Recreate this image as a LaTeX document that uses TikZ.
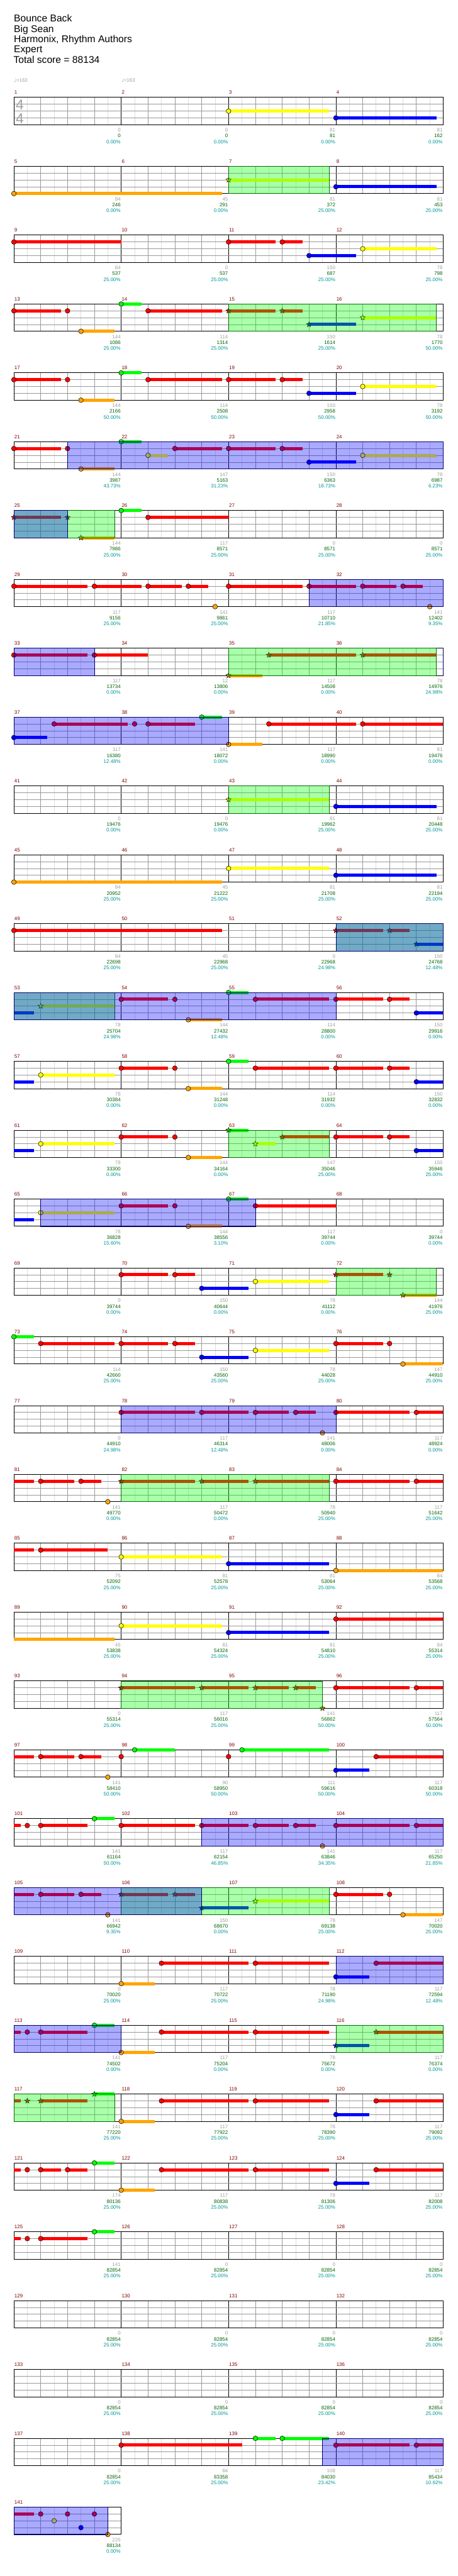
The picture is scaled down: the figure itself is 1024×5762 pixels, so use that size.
\documentclass[tikz,border=0pt]{standalone}
\usepackage{fontspec}
\setmainfont{Liberation Sans}
\newfontfamily\notefont{DejaVu Sans}
\definecolor{cG}{RGB}{0,255,0}
\definecolor{cR}{RGB}{255,0,0}
\definecolor{cY}{RGB}{255,255,0}
\definecolor{cB}{RGB}{0,0,255}
\definecolor{cO}{RGB}{255,165,0}
\definecolor{barred}{RGB}{128,0,0}
\definecolor{gaingray}{RGB}{160,160,160}
\definecolor{scoregreen}{RGB}{0,100,0}
\definecolor{ratioteal}{RGB}{0,150,150}
\definecolor{gridlight}{RGB}{221,221,221}
\definecolor{gridmid}{RGB}{153,153,153}
\definecolor{phraseedge}{RGB}{0,110,0}
\definecolor{activeedge}{RGB}{0,0,110}
\tikzset{
    titletext/.style={font=\fontsize{16.5}{19}\selectfont, anchor=base west, inner sep=0pt},
    smalltext/.style={font=\fontsize{8.4}{10}\selectfont, inner sep=0pt},
    barnum/.style={smalltext, text=barred, anchor=base west},
    gainnum/.style={smalltext, text=gaingray, anchor=base east},
    scorenum/.style={smalltext, text=scoregreen, anchor=base east},
    rationum/.style={smalltext, text=ratioteal, anchor=base east},
    tempomark/.style={smalltext, text=gaingray, anchor=base west},
    timesig/.style={font=\fontsize{24}{28}\selectfont, text=gaingray, anchor=base west, inner sep=0pt},
    lightline/.style={draw=gridlight, line width=0.75pt},
    beatline/.style={draw=gridmid, line width=0.75pt},
    barline/.style={draw=black, line width=0.75pt},
    staffbox/.style={draw=black, line width=1pt},
    headline/.style={draw=black, line width=0.55pt},
    phrasezone/.style={fill=cG, fill opacity=0.333, draw=phraseedge, line width=0.75pt},
    activezone/.style={fill=cB, fill opacity=0.333, draw=activeedge, line width=0.75pt}
}
% lane heights inside a staff
\def\yG{0}\def\yR{15.25}\def\yY{30.5}\def\yB{45.75}\def\yO{61}
% staff grid for #1 measures
\newcommand{\staff}[1]{%
  \pgfmathtruncatemacro\lastline{8*#1-1}%
  \foreach \e in {1,...,\lastline} {%
    \pgfmathtruncatemacro\inbar{mod(\e,8)}%
    \pgfmathtruncatemacro\isodd{mod(\e,2)}%
    \ifnum\inbar=0 \draw[barline] ({30*\e},0) -- ({30*\e},61);%
    \else\ifnum\isodd=1 \draw[lightline] ({30*\e},0) -- ({30*\e},61);%
    \else \draw[beatline] ({30*\e},0) -- ({30*\e},61);\fi\fi}%
  \foreach \l in {15.25,30.5,45.75} \draw[beatline] (0,\l) -- ({240*#1},\l);%
  \draw[staffbox] (0,0) rectangle ({240*#1},61);}
% gem: lane, start, end of sustain (empty = none)
\newcommand{\gem}[3]{%
  \edef\ly{\csname y#1\endcsname}%
  \if\relax\detokenize{#3}\relax\else
    \fill[c#1] ({30*#2},{\ly-3.5}) rectangle ({30*#3},{\ly+3.5});\fi
  \filldraw[fill=c#1, headline] ({30*#2},\ly) circle[radius=4pt];}
\newcommand{\stargem}[3]{%
  \edef\ly{\csname y#1\endcsname}%
  \if\relax\detokenize{#3}\relax\else
    \fill[c#1] ({30*#2},{\ly-3.5}) rectangle ({30*#3},{\ly+3.5});\fi
  \coordinate (gem) at ({30*#2},\ly);
  \filldraw[fill=c#1, headline] ([shift={(90:4.6pt)}]gem)
    -- ([shift={(126:2pt)}]gem) -- ([shift={(162:4.6pt)}]gem)
    -- ([shift={(198:2pt)}]gem) -- ([shift={(234:4.6pt)}]gem)
    -- ([shift={(270:2pt)}]gem) -- ([shift={(306:4.6pt)}]gem)
    -- ([shift={(342:2pt)}]gem) -- ([shift={(18:4.6pt)}]gem)
    -- ([shift={(54:2pt)}]gem) -- cycle;}
% sustain carried over from the row above
\newcommand{\tailbar}[2]{%
  \edef\ly{\csname y#1\endcsname}%
  \fill[c#1] (0,{\ly-3.5}) rectangle ({30*#2},{\ly+3.5});}
\newcommand{\odphrase}[2]{\filldraw[phrasezone] ({30*#1},0) rectangle ({30*#2},61);}
\newcommand{\odactive}[2]{\filldraw[activezone] ({30*#1},0) rectangle ({30*#2},61);}
% measure numbers and points under each measure
\newcommand{\rowlabels}[3]{%
  \foreach \col in {1,...,#2} {%
    \pgfmathtruncatemacro\mnum{#1+\col-1}%
    \node[barnum] (bar-\mnum) at ({240*(\col-1)+1},-7) {\mnum};}%
  \foreach \gpts/\tpts/\prat [count=\col] in {#3} {%
    \pgfmathtruncatemacro\mnum{#1+\col-1}%
    \node[gainnum] (gain-\mnum) at ({240*\col-1},77) {\gpts};
    \node[scorenum] (score-\mnum) at ({240*\col-1},90) {\tpts};
    \node[rationum] (ratio-\mnum) at ({240*\col-1},103) {\prat\%};}}
% row, first measure, measures, points, gems
\newcommand{\chartrow}[5]{%
  \begin{scope}[shift={(31,{218+154*#1})}]
    \staff{#3}
    #5
    \rowlabels{#2}{#3}{#4}
  \end{scope}}

\begin{document}
\begin{tikzpicture}[x=0.75pt, y=-0.75pt]
    \useasboundingbox (0,0) rectangle (1024,5762);
    \fill[white] (0,0) rectangle (1024,5762);

    % 1. Header
    \node[titletext] (song) at (31,49) {Bounce Back};
    \node[titletext] (artist) at (31,72) {Big Sean};
    \node[titletext] (charter) at (31,95) {Harmonix, Rhythm Authors};
    \node[titletext] (level) at (31,118) {Expert};
    \node[titletext] (total) at (30,141) {Total score = 88134};
    \node[tempomark] (tempo-1) at (31,184) {{\notefont ♩}=163};
    \node[tempomark] (tempo-2) at (271,184) {{\notefont ♩}=163};

    % 2. Rows of four measures
    \chartrow{0}{1}{4}{0/0/0.00, 0/0/0.00, 81/81/0.00, 81/162/0.00}{%
      \gem{Y}{16}{23.5} \gem{B}{24}{31.5}}
    \node[timesig] (sig-top) at (35,245) {4};
    \node[timesig] (sig-bot) at (35,276) {4};

    \chartrow{1}{5}{4}{84/246/0.00, 45/291/0.00, 81/372/25.00, 81/453/25.00}{%
      \gem{O}{0}{15.5} \stargem{Y}{16}{23.5} \gem{B}{24}{31.5}
      \odphrase{16}{23.5}}

    \chartrow{2}{9}{4}{84/537/25.00, 0/537/25.00, 150/687/25.00, 78/798/25.00}{%
      \gem{R}{0}{8} \gem{R}{16}{19.5} \gem{R}{20}{21.5} \gem{B}{22}{25.5} \gem{Y}{26}{31.5}}

    \chartrow{3}{13}{4}{144/1086/25.00, 114/1314/25.00, 150/1614/25.00, 78/1770/50.00}{%
      \gem{R}{0}{3.5} \gem{R}{4}{} \gem{O}{5}{7.5} \gem{G}{8}{9.5} \gem{R}{10}{15.5}
      \stargem{R}{16}{19.5} \stargem{R}{20}{21.5} \stargem{B}{22}{25.5} \stargem{Y}{26}{31.5}
      \odphrase{16}{31.5}}

    \chartrow{4}{17}{4}{144/2166/50.00, 114/2508/50.00, 150/2958/50.00, 78/3192/50.00}{%
      \gem{R}{0}{3.5} \gem{R}{4}{} \gem{O}{5}{7.5} \gem{G}{8}{9.5} \gem{R}{10}{15.5}
      \gem{R}{16}{19.5} \gem{R}{20}{21.5} \gem{B}{22}{25.5} \gem{Y}{26}{31.5}}

    \chartrow{5}{21}{4}{144/3987/43.73, 147/5163/31.23, 150/6363/18.73, 78/6987/6.23}{%
      \gem{R}{0}{3.5} \gem{R}{4}{} \gem{O}{5}{7.5} \gem{G}{8}{9.5} \gem{Y}{10}{11.5} \gem{R}{12}{15.5}
      \gem{R}{16}{19.5} \gem{R}{20}{21.5} \gem{B}{22}{25.5} \gem{Y}{26}{31.5}
      \odactive{4}{32}}

    \chartrow{6}{25}{4}{144/7986/25.00, 117/8571/25.00, 0/8571/25.00, 0/8571/25.00}{%
      \stargem{R}{0}{3.5} \stargem{R}{4}{} \stargem{O}{5}{7.5} \gem{G}{8}{9.5} \gem{R}{10}{16}
      \odphrase{0}{7.5} \odactive{0}{4}}

    \chartrow{7}{29}{4}{117/9156/25.00, 141/9861/25.00, 117/10710/21.85, 141/12402/9.35}{%
      \gem{R}{0}{5.5} \gem{R}{6}{9.5} \gem{R}{10}{12.5} \gem{R}{13}{14.5} \gem{O}{15}{}
      \gem{R}{16}{21.5} \gem{R}{22}{25.5} \gem{R}{26}{28.5} \gem{R}{29}{30.5} \gem{O}{31}{}
      \odactive{22}{32}}

    \chartrow{8}{33}{4}{117/13734/0.00, 12/13806/0.00, 117/14508/0.00, 78/14976/24.98}{%
      \gem{R}{0}{5.5} \gem{R}{6}{10}
      \stargem{O}{16}{18.5} \stargem{R}{19}{25.5} \stargem{R}{26}{31.5}
      \odactive{0}{6} \odphrase{16}{31.5} \odactive{32}{32}}

    \chartrow{9}{37}{4}{117/16380/12.48, 141/18072/0.00, 117/18990/0.00, 81/19476/0.00}{%
      \gem{B}{0}{2.5} \gem{R}{3}{8.5} \gem{R}{9}{} \gem{R}{10}{13.5} \gem{G}{14}{15.5}
      \gem{O}{16}{18.5} \gem{R}{19}{25.5} \gem{R}{26}{32}
      \odactive{0}{16}}

    \chartrow{10}{41}{4}{0/19476/0.00, 0/19476/0.00, 81/19962/25.00, 81/20448/25.00}{%
      \stargem{Y}{16}{23.5} \gem{B}{24}{31.5}
      \odphrase{16}{23.5}}

    \chartrow{11}{45}{4}{84/20952/25.00, 45/21222/25.00, 81/21708/25.00, 81/22194/25.00}{%
      \gem{O}{0}{15.5} \gem{Y}{16}{23.5} \gem{B}{24}{31.5}}

    \chartrow{12}{49}{4}{84/22698/25.00, 45/22968/25.00, 0/22968/24.98, 150/24768/12.48}{%
      \gem{R}{0}{15.5} \stargem{R}{24}{27.5} \stargem{R}{28}{29.5} \stargem{B}{30}{32}
      \odphrase{24}{32} \odactive{24}{32}}

    \chartrow{13}{53}{4}{78/25704/24.98, 144/27432/12.48, 114/28800/0.00, 150/29916/0.00}{%
      \tailbar{B}{1.5} \stargem{Y}{2}{7.5} \gem{R}{8}{11.5} \gem{R}{12}{} \gem{O}{13}{15.5}
      \gem{G}{16}{17.5} \gem{R}{18}{23.5} \gem{R}{24}{27.5} \gem{R}{28}{29.5} \gem{B}{30}{32}
      \odphrase{0}{7.5} \odactive{0}{24}}

    \chartrow{14}{57}{4}{78/30384/0.00, 144/31248/0.00, 114/31932/0.00, 150/32832/0.00}{%
      \tailbar{B}{1.5} \gem{Y}{2}{7.5} \gem{R}{8}{11.5} \gem{R}{12}{} \gem{O}{13}{15.5}
      \gem{G}{16}{17.5} \gem{R}{18}{23.5} \gem{R}{24}{27.5} \gem{R}{28}{29.5} \gem{B}{30}{32}}

    \chartrow{15}{61}{4}{78/33300/0.00, 144/34164/0.00, 147/35046/25.00, 150/35946/25.00}{%
      \tailbar{B}{1.5} \gem{Y}{2}{7.5} \gem{R}{8}{11.5} \gem{R}{12}{} \gem{O}{13}{15.5}
      \stargem{G}{16}{17.5} \stargem{Y}{18}{19.5} \stargem{R}{20}{23.5}
      \gem{R}{24}{27.5} \gem{R}{28}{29.5} \gem{B}{30}{32}
      \odphrase{16}{23.5}}

    \chartrow{16}{65}{4}{78/36828/15.60, 144/38556/3.10, 117/39744/0.00, 0/39744/0.00}{%
      \tailbar{B}{1.5} \gem{Y}{2}{7.5} \gem{R}{8}{11.5} \gem{R}{12}{} \gem{O}{13}{15.5}
      \gem{G}{16}{17.5} \gem{R}{18}{24}
      \odactive{2}{18}}

    \chartrow{17}{69}{4}{0/39744/0.00, 150/40644/0.00, 78/41112/0.00, 144/41976/25.00}{%
      \gem{R}{8}{11.5} \gem{R}{12}{13.5} \gem{B}{14}{17.5} \gem{Y}{18}{23.5}
      \stargem{R}{24}{27.5} \stargem{R}{28}{} \stargem{O}{29}{31.5}
      \odphrase{24}{31.5}}

    \chartrow{18}{73}{4}{114/42660/25.00, 150/43560/25.00, 78/44028/25.00, 147/44910/25.00}{%
      \gem{G}{0}{1.5} \gem{R}{2}{7.5} \gem{R}{8}{11.5} \gem{R}{12}{13.5} \gem{B}{14}{17.5}
      \gem{Y}{18}{23.5} \gem{R}{24}{27.5} \gem{R}{28}{} \gem{O}{29}{32}}

    \chartrow{19}{77}{4}{0/44910/24.98, 117/46314/12.48, 141/48006/0.00, 117/48924/0.00}{%
      \gem{R}{8}{13.5} \gem{R}{14}{17.5} \gem{R}{18}{20.5} \gem{R}{21}{22.5} \gem{O}{23}{}
      \gem{R}{24}{29.5} \gem{R}{30}{32}
      \odactive{8}{24}}

    \chartrow{20}{81}{4}{141/49770/0.00, 117/50472/0.00, 78/50940/25.00, 117/51642/25.00}{%
      \tailbar{R}{1.5} \gem{R}{2}{4.5} \gem{R}{5}{6.5} \gem{O}{7}{}
      \stargem{R}{8}{13.5} \stargem{R}{14}{17.5} \stargem{R}{18}{23.5}
      \gem{R}{24}{29.5} \gem{R}{30}{32}
      \odphrase{8}{23.5}}

    \chartrow{21}{85}{4}{75/52092/25.00, 81/52578/25.00, 81/53064/25.00, 84/53568/25.00}{%
      \tailbar{R}{1.5} \gem{R}{2}{7} \gem{Y}{8}{15.5} \gem{B}{16}{23.5} \gem{O}{24}{32}}

    \chartrow{22}{89}{4}{45/53838/25.00, 81/54324/25.00, 81/54810/25.00, 84/55314/25.00}{%
      \tailbar{O}{7.5} \gem{Y}{8}{15.5} \gem{B}{16}{23.5} \gem{R}{24}{32}}

    \chartrow{23}{93}{4}{0/55314/25.00, 117/56016/25.00, 141/56862/50.00, 117/57564/50.00}{%
      \stargem{R}{8}{13.5} \stargem{R}{14}{17.5} \stargem{R}{18}{20.5} \stargem{R}{21}{22.5}
      \stargem{O}{23}{} \gem{R}{24}{29.5} \gem{R}{30}{32}
      \odphrase{8}{23}}

    \chartrow{24}{97}{4}{141/58410/50.00, 90/58950/50.00, 111/59616/50.00, 117/60318/50.00}{%
      \tailbar{R}{1.5} \gem{R}{2}{4.5} \gem{R}{5}{6.5} \gem{O}{7}{} \gem{R}{8}{} \gem{G}{9}{12}
      \gem{R}{16}{} \gem{G}{17}{23.5} \gem{B}{24}{26.5} \gem{R}{27}{32}}

    \chartrow{25}{101}{4}{141/61164/50.00, 117/62154/46.85, 141/63846/34.35, 117/65250/21.85}{%
      \tailbar{R}{0.5} \gem{R}{1}{} \gem{R}{2}{5.5} \gem{G}{6}{7.5} \gem{R}{8}{13.5}
      \gem{R}{14}{17.5} \gem{R}{18}{20.5} \gem{R}{21}{22.5} \gem{O}{23}{}
      \gem{R}{24}{29.5} \gem{R}{30}{32}
      \odactive{14}{32}}

    \chartrow{26}{105}{4}{141/66942/9.35, 150/68670/0.00, 78/69138/25.00, 147/70020/25.00}{%
      \tailbar{R}{1.5} \gem{R}{2}{4.5} \gem{R}{5}{6.5} \gem{O}{7}{}
      \stargem{R}{8}{11.5} \stargem{R}{12}{13.5} \stargem{B}{14}{17.5} \stargem{Y}{18}{23.5}
      \gem{R}{24}{27.5} \gem{R}{28}{} \gem{O}{29}{32}
      \odphrase{8}{23.5} \odactive{0}{14}}

    \chartrow{27}{109}{4}{0/70020/25.00, 117/70722/25.00, 78/71190/24.98, 117/72594/12.48}{%
      \gem{O}{8}{10.5} \gem{R}{11}{17.5} \gem{R}{18}{23.5} \gem{B}{24}{26.5} \gem{R}{27}{32}
      \odactive{24}{32}}

    \chartrow{28}{113}{4}{141/74502/0.00, 117/75204/0.00, 78/75672/0.00, 117/76374/0.00}{%
      \tailbar{R}{0.5} \gem{R}{1}{} \gem{R}{2}{5.5} \gem{G}{6}{7.5} \gem{O}{8}{10.5}
      \gem{R}{11}{17.5} \gem{R}{18}{23.5} \stargem{B}{24}{26.5} \stargem{R}{27}{32}
      \odphrase{24}{32} \odactive{0}{8}}

    \chartrow{29}{117}{4}{141/77220/25.00, 117/77922/25.00, 78/78390/25.00, 117/79092/25.00}{%
      \tailbar{R}{0.5} \stargem{R}{1}{} \stargem{R}{2}{5.5} \stargem{G}{6}{7.5} \gem{O}{8}{10.5}
      \gem{R}{11}{17.5} \gem{R}{18}{23.5} \gem{B}{24}{26.5} \gem{R}{27}{32}
      \odphrase{0}{7.5}}

    \chartrow{30}{121}{4}{174/80136/25.00, 117/80838/25.00, 78/81306/25.00, 117/82008/25.00}{%
      \tailbar{R}{0.5} \gem{R}{1}{} \gem{R}{2}{3.5} \gem{R}{4}{5.5} \gem{G}{6}{7.5} \gem{O}{8}{10.5}
      \gem{R}{11}{17.5} \gem{R}{18}{23.5} \gem{B}{24}{26.5} \gem{R}{27}{32}}

    \chartrow{31}{125}{4}{141/82854/25.00, 0/82854/25.00, 0/82854/25.00, 0/82854/25.00}{%
      \tailbar{R}{0.5} \gem{R}{1}{} \gem{R}{2}{5.5} \gem{G}{6}{7.5}}

    \chartrow{32}{129}{4}{0/82854/25.00, 0/82854/25.00, 0/82854/25.00, 0/82854/25.00}{}

    \chartrow{33}{133}{4}{0/82854/25.00, 0/82854/25.00, 0/82854/25.00, 0/82854/25.00}{}

    \chartrow{34}{137}{4}{0/82854/25.00, 84/83358/25.00, 108/84030/23.42, 117/85434/10.92}{%
      \gem{R}{8}{17} \gem{G}{18}{19.5} \gem{G}{20}{23.5} \gem{R}{24}{29.5} \gem{R}{30}{32}
      \odactive{23}{32}}

    % 3. Last measure
    \chartrow{35}{141}{1}{225/88134/0.00}{%
      \tailbar{R}{1.5} \gem{R}{2}{} \gem{Y}{3}{} \gem{R}{4}{} \gem{B}{5}{} \gem{R}{6}{} \gem{O}{7}{}
      \odactive{0}{7}}

\end{tikzpicture}
\end{document}
